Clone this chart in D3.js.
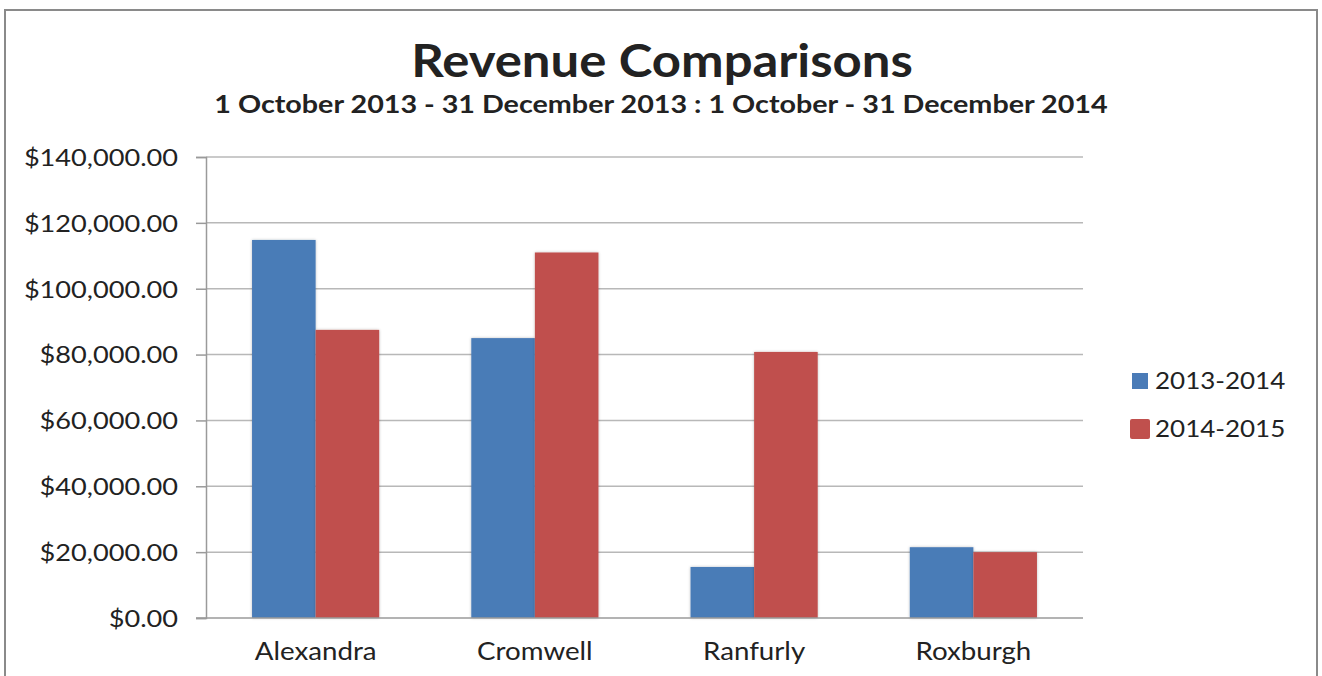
<!DOCTYPE html>
<html>
<head>
<meta charset="utf-8">
<script src="https://cdn.jsdelivr.net/npm/d3@7/dist/d3.min.js"></script>
<style>
  html, body { margin: 0; padding: 0; background: #fff; }
  svg { display: block; }
  text { font-family: Lato, "Open Sans", sans-serif; fill: #222; }
</style>
</head>
<body>
<svg id="chart" width="1322" height="676"></svg>
<script>
// Revenue per branch for the October–December quarter of each year
const categories = ["Alexandra", "Cromwell", "Ranfurly", "Roxburgh"];
const seriesNames = ["2013-2014", "2014-2015"];
const revenue2013 = [114800, 85000, 15500, 21500];
const revenue2014 = [87500, 111000, 80800, 20000];
const yTicks = [0, 20000, 40000, 60000, 80000, 100000, 120000, 140000];
const colors = ["#4a7bb7", "#c0504d"];

const titleText = "Revenue Comparisons";
const subtitleText = "1 October 2013 - 31 December 2013 : 1 October - 31 December 2014";

const svg = d3.select("#chart");
const W = 1322, H = 676;
const margin = { left: 206, right: 239, top: 157, bottom: 58 };

// Text is drawn slightly wide, like the original Office rendering
const STRETCH = 1.13;
function widen(sel) {
  sel.each(function () {
    const n = this.getComputedTextLength();
    this.setAttribute("textLength", n * STRETCH);
    this.setAttribute("lengthAdjust", "spacingAndGlyphs");
  });
}

const defs = svg.append("defs");
const shadow = defs.append("filter").attr("id", "barShadow")
  .attr("x", "-20%").attr("y", "-10%").attr("width", "140%").attr("height", "120%");
shadow.append("feGaussianBlur").attr("in", "SourceAlpha").attr("stdDeviation", 1.6).attr("result", "b");
shadow.append("feComponentTransfer").attr("in", "b").attr("result", "s")
  .append("feFuncA").attr("type", "linear").attr("slope", 0.25);
const merge = shadow.append("feMerge");
merge.append("feMergeNode").attr("in", "s");
merge.append("feMergeNode").attr("in", "SourceGraphic");

// Chart frame
svg.append("rect")
  .attr("x", 5).attr("y", 10).attr("width", 1312).attr("height", 700)
  .attr("fill", "#fff").attr("stroke", "#8a8a8a").attr("stroke-width", 2);

const x = d3.scaleBand().domain(categories)
  .range([margin.left, W - margin.right]).paddingInner(0.42).paddingOuter(0.21);
const xs = d3.scaleBand().domain(seriesNames).range([0, x.bandwidth()]);
const y = d3.scaleLinear().domain([0, 140000]).range([H - margin.bottom, margin.top]);

// Horizontal gridlines
svg.append("g").selectAll("line").data(yTicks.filter(d => d > 0)).join("line")
  .attr("x1", margin.left).attr("x2", W - margin.right)
  .attr("y1", d => y(d)).attr("y2", d => y(d))
  .attr("stroke", "#b8b8b8").attr("stroke-width", 1.5);

// Y axis
const fmt = d3.format("$,.2f");
const yAxis = svg.append("g").attr("transform", `translate(${margin.left},0)`)
  .call(d3.axisLeft(y).tickValues(yTicks).tickFormat(fmt).tickSize(10).tickPadding(18));
yAxis.select(".domain").attr("stroke", "#9a9a9a").attr("stroke-width", 1.5);
yAxis.selectAll(".tick line").attr("stroke", "#9a9a9a").attr("stroke-width", 1.5);
yAxis.selectAll(".tick text")
  .attr("font-family", "Lato").attr("font-size", 24).attr("fill", "#222").attr("dy", "0.35em");

// Bars
const rows = categories.map((c, i) => ({ c, vals: [revenue2013[i], revenue2014[i]] }));
const groups = svg.append("g").selectAll("g").data(rows).join("g")
  .attr("transform", d => `translate(${x(d.c)},0)`);
groups.selectAll("rect").data(d => d.vals.map((v, k) => ({ v, k }))).join("rect")
  .attr("x", d => xs(seriesNames[d.k]))
  .attr("y", d => y(d.v))
  .attr("width", xs.bandwidth())
  .attr("height", d => y(0) - y(d.v))
  .attr("fill", d => colors[d.k])
  .attr("filter", "url(#barShadow)");

// X axis baseline
svg.append("line")
  .attr("x1", margin.left - 10).attr("x2", W - margin.right)
  .attr("y1", y(0)).attr("y2", y(0))
  .attr("stroke", "#9a9a9a").attr("stroke-width", 1.5);

// Category labels
svg.append("g").selectAll("text").data(categories).join("text")
  .attr("x", d => x(d) + x.bandwidth() / 2)
  .attr("y", 660)
  .attr("text-anchor", "middle")
  .attr("font-size", 24.5)
  .text(d => d);

// Titles
svg.append("text").attr("x", 662).attr("y", 77).attr("text-anchor", "middle")
  .attr("font-size", 45).attr("font-weight", 700).attr("fill", "#000")
  .text(titleText);
svg.append("text").attr("x", 661).attr("y", 113).attr("text-anchor", "middle")
  .attr("font-size", 25.4).attr("font-weight", 700).attr("fill", "#111")
  .text(subtitleText);

// Legend
const legend = svg.append("g").selectAll("g").data(seriesNames).join("g")
  .attr("transform", (d, i) => `translate(1131,${381 + i * 48})`);
legend.append("rect")
  .attr("x", (d, i) => i === 0 ? 1 : -1).attr("y", (d, i) => i === 0 ? -8 : -10)
  .attr("width", (d, i) => i === 0 ? 16 : 20).attr("height", (d, i) => i === 0 ? 16 : 20)
  .attr("rx", (d, i) => i === 0 ? 0 : 2)
  .attr("fill", (d, i) => colors[i]);
legend.append("text").attr("x", 24).attr("y", 8)
  .attr("font-size", 23).text(d => d);

widen(svg.selectAll("text"));
</script>
</body>
</html>
